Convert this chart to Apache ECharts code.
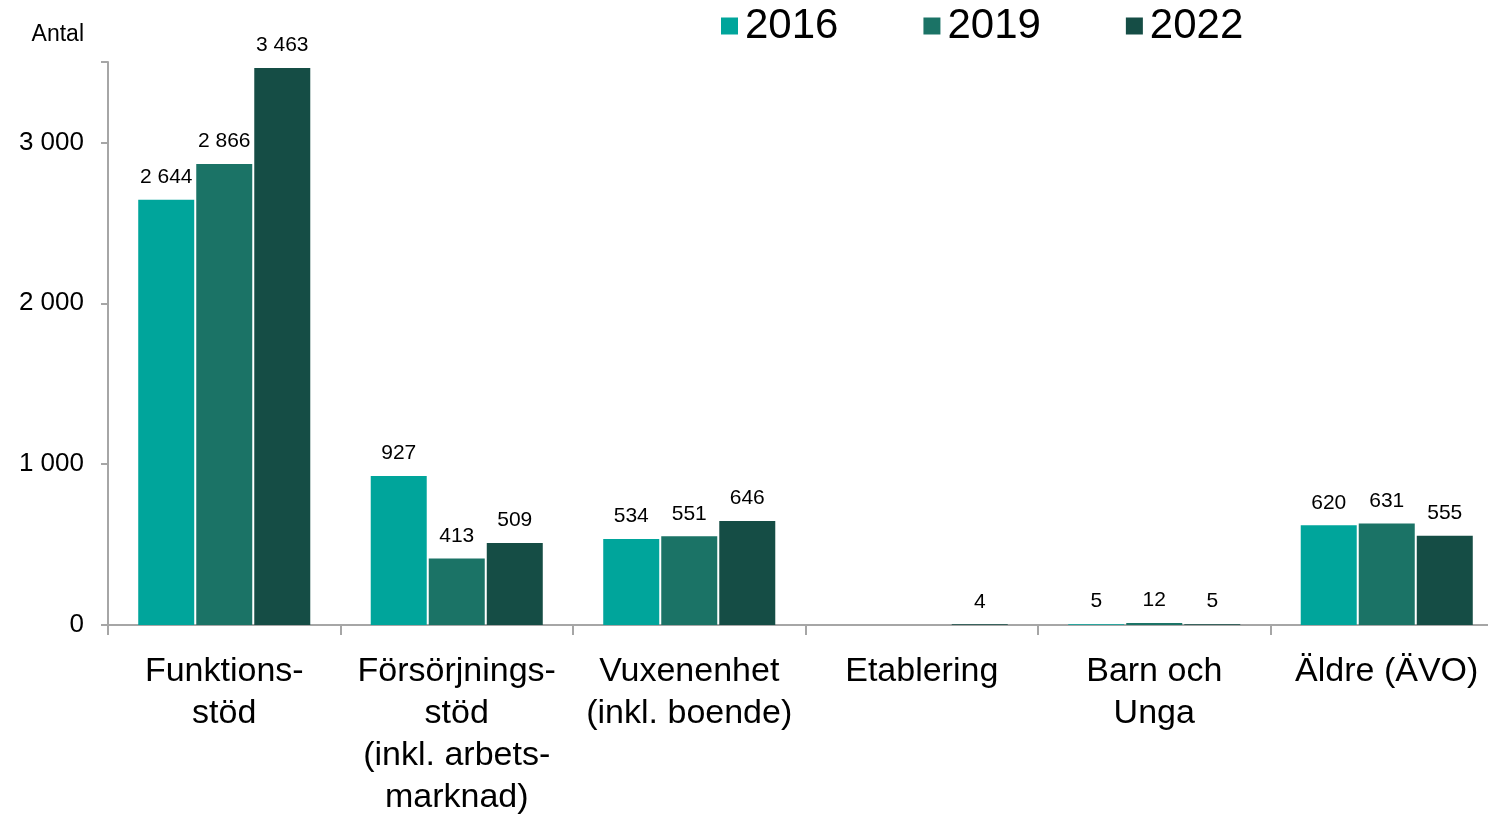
<!DOCTYPE html>
<html>
<head>
<meta charset="utf-8">
<script src="https://cdn.jsdelivr.net/npm/echarts@6/dist/echarts.min.js"></script>
<style>
  html, body { margin: 0; padding: 0; background: #fff; }
  #chart { width: 1488px; height: 814px; }
</style>
</head>
<body>
<div id="chart"></div>
<script>
const categories = [
  "Funktions-\nstöd",
  "Försörjnings-\nstöd\n(inkl. arbets-\nmarknad)",
  "Vuxenenhet\n(inkl. boende)",
  "Etablering",
  "Barn och\nUnga",
  "Äldre (ÄVO)"
];
const years = ["2016", "2019", "2022"];
const values2016 = [2644, 927, 534, null, 5, 620];
const values2019 = [2866, 413, 551, null, 12, 631];
const values2022 = [3463, 509, 646, 4, 5, 555];
const colors = ["#00a59b", "#1b7366", "#154d45"];

const FONT = "Liberation Sans";

function fmtNum(v) {
  return String(v).replace(/\B(?=(\d{3})+(?!\d))/g, " ");
}

const chart = echarts.init(document.getElementById("chart"));

const seriesData = [values2016, values2019, values2022];

chart.setOption({
  animation: false,
  textStyle: { fontFamily: FONT, color: "#000" },
  legend: {
    left: 716,
    top: 0,
    itemWidth: 17,
    itemHeight: 17,
    itemGap: 85,
    icon: "rect",
    textStyle: { fontSize: 42, color: "#000", fontFamily: FONT, padding: [0, 0, 0, 2] },
    data: years
  },
  grid: { left: 108, right: -15, top: 62, bottom: 189, outerBoundsMode: "none", containLabel: false },
  xAxis: {
    type: "category",
    data: categories,
    axisLine: { lineStyle: { color: "#a6a6a6", width: 2 } },
    axisTick: { show: true, length: 10, lineStyle: { color: "#a6a6a6", width: 2 } },
    axisLabel: {
      fontSize: 34,
      color: "#000",
      lineHeight: 42,
      margin: 26,
      interval: 0,
      fontFamily: FONT
    }
  },
  yAxis: {
    type: "value",
    name: "Antal",
    nameLocation: "end",
    nameGap: 16,
    nameTextStyle: { fontSize: 23, color: "#000", align: "right", padding: [0, 24, 0, 0] },
    min: 0,
    max: 3500,
    interval: 1000,
    splitLine: { show: false },
    axisLine: { show: true, lineStyle: { color: "#a6a6a6", width: 2 } },
    axisTick: { show: true, length: 7, lineStyle: { color: "#a6a6a6", width: 2 } },
    axisLabel: {
      fontSize: 26,
      color: "#000",
      margin: 24,
      formatter: (v) => (v > 3000 ? "" : fmtNum(v))
    }
  },
  series: years.map((y, i) => ({
    name: y,
    type: "bar",
    data: seriesData[i],
    barWidth: 56,
    barGap: "3.6%",
    itemStyle: { color: colors[i] },
    label: {
      show: true,
      position: "top",
      distance: 12,
      fontSize: 21,
      color: "#000",
      formatter: (p) => fmtNum(p.value)
    }
  }))
});

window.addEventListener("resize", () => chart.resize());
</script>
</body>
</html>
